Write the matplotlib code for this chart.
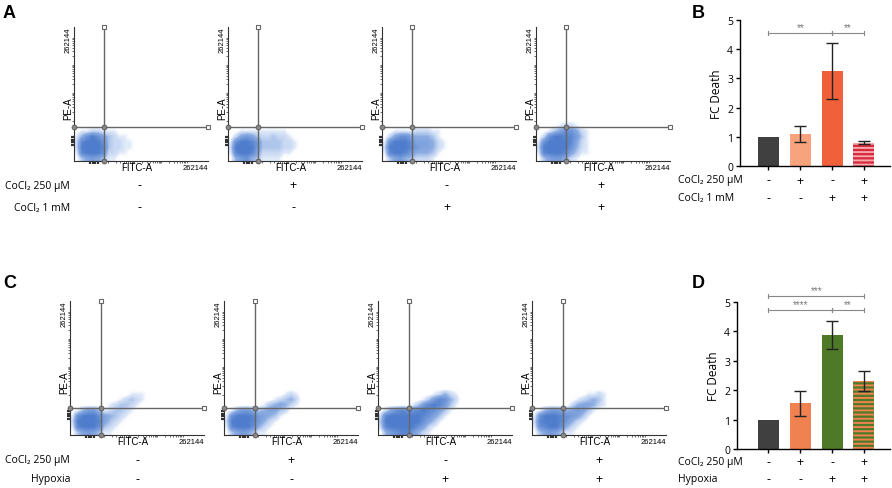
import numpy as np
import matplotlib
matplotlib.use("Agg")
import matplotlib.pyplot as plt
from matplotlib.colors import LinearSegmentedColormap

W, H = 892, 489

# Flow cytometry event density (0 = empty, 9 = solid).
# Rows go from top (PE-A 0.32-0.36) to bottom (0-0.04), columns 0-0.64 of FITC-A, 0.04 per cell.
a1_density = [
    "0000000000000000",
    "0000000000000000",
    "0000000000000000",
    "0112211100000000",
    "1479753211000000",
    "2899973221100000",
    "2999983221100000",
    "1899972211000000",
    "0356531100000000",
]
a2_density = [
    "0000000000000000",
    "0000000000000000",
    "0000000000000000",
    "0011111111100000",
    "0256532232210000",
    "1799863333221000",
    "2999963333221000",
    "1899852222110000",
    "0467431111000000",
]
a3_density = [
    "0000000000000000",
    "0000000000000000",
    "0000000000000000",
    "0011112221100000",
    "0257754443100000",
    "1799975554210000",
    "2999986554210000",
    "1899864443100000",
    "0356432221000000",
]
a4_density = [
    "0000000000000000",
    "0000000000000000",
    "0000122100000000",
    "0013577521000000",
    "0279988631000000",
    "1799998521000000",
    "2999997421000000",
    "1899985311000000",
    "0356642100000000",
]
c1_density = [
    "0000000000000000",
    "0000000000011100",
    "0000000001232100",
    "0000000123321000",
    "0146631233210000",
    "1799975432100000",
    "2999985321000000",
    "1899973210000000",
    "0356531100000000",
]
c2_density = [
    "0000000000000000",
    "0000000000012100",
    "0000000001234200",
    "0000000134542100",
    "0146643455320000",
    "1799986543100000",
    "2999986421000000",
    "1899974210000000",
    "0356531100000000",
]
c3_density = [
    "0000000000000000",
    "0000000000124210",
    "0000000013687420",
    "0000001368986310",
    "0257877898753100",
    "2899999987531000",
    "3999999975310000",
    "2899999752100000",
    "0467886421000000",
]
c4_density = [
    "0000000000000000",
    "0000000000112100",
    "0000000012343100",
    "0000000245542100",
    "0146654565310000",
    "1799987653100000",
    "2899986421000000",
    "1789974210000000",
    "0356531100000000",
]

# quadrant gates (fraction of axis)
a_gate = (0.224, 0.254)
c_gate = (0.23, 0.20)

# treatment rows
a_cocl250 = ["-", "+", "-", "+"]
a_cocl1 = ["-", "-", "+", "+"]
c_cocl250 = ["-", "+", "-", "+"]
c_hypoxia = ["-", "-", "+", "+"]

# FC Death bars
b_values = [1.0, 1.1, 3.25, 0.8]
b_low = [1.0, 0.83, 2.28, 0.76]
b_high = [1.0, 1.38, 4.22, 0.85]
d_values = [1.0, 1.55, 3.88, 2.32]
d_low = [1.0, 1.13, 3.40, 1.98]
d_high = [1.0, 1.97, 4.35, 2.65]
b_sig = [(0, 2, 4.55, "**"), (2, 3, 4.55, "**")]
d_sig = [(0, 3, 5.21, "***"), (0, 2, 4.73, "****"), (2, 3, 4.73, "**")]

b_colors = ["#404040", "#f7a47e", "#f0603a", "#d7263d"]
b_stripe = "#f5a8a8"
d_colors = ["#404040", "#f08252", "#4e7a27", "#4e7a27"]
d_stripe = "#f08252"

TXT = ["Open Sans", "DejaVu Sans"]
ARIAL = ["Liberation Sans", "DejaVu Sans"]
plt.rcParams["hatch.linewidth"] = 1.4

cloud_cmap = LinearSegmentedColormap.from_list(
    "cloud", [(0.0, (1, 1, 1, 0)), (0.12, (0.70, 0.79, 0.94, 0.45)),
              (0.45, (0.47, 0.62, 0.87, 0.85)), (1.0, (0.31, 0.49, 0.80, 1))])
gate_col = "#666666"


def fx(x):
    return x / W


def fy(y):
    return 1 - y / H


def flow_panel(left, bottom, grid, gate):
    ax = fig.add_axes([fx(left), fy(bottom), 134 / W, 134 / H])
    arr = np.array([[int(c) for c in row] for row in grid]) / 9.0
    ax.imshow(arr, extent=(0, 0.64, 0, 0.36), origin="upper", cmap=cloud_cmap,
              vmin=0, vmax=1, interpolation="bilinear", aspect="auto", zorder=1)
    ax.set_xlim(0, 1)
    ax.set_ylim(0, 1)
    for s in ("top", "right"):
        ax.spines[s].set_visible(False)
    for s in ("left", "bottom"):
        ax.spines[s].set_linewidth(0.8)
        ax.spines[s].set_color("#333333")

    steps = np.log10(np.arange(1, 10))
    ax.set_xticks(np.concatenate([d + 0.2 * steps for d in (0.25, 0.45, 0.65)]), minor=True)
    ax.set_yticks(np.concatenate([d + 0.21 * steps for d in (0.30, 0.51, 0.72)]), minor=True)
    thick = [0.12, 0.14, 0.16, 0.18]
    ax.set_xticks(thick, labels=[])
    ax.set_yticks(thick, labels=[])
    ax.tick_params(which="minor", length=1.5, width=0.5, color="#333333")
    ax.tick_params(which="major", length=2, width=1.6, color="#333333")

    gx, gy = gate
    ax.plot([gx, gx], [0, 1], color=gate_col, lw=1, zorder=3, clip_on=False)
    ax.plot([0, 1], [gy, gy], color=gate_col, lw=1, zorder=3, clip_on=False)
    ax.plot([gx, 1], [1, gy], ls="none", marker="s", ms=3, mfc="white",
            mec=gate_col, mew=0.8, zorder=4, clip_on=False)
    ax.plot([0, gx, gx], [gy, gy, 0], ls="none", marker="o", ms=3.5, mfc="#888888",
            mec="#555555", mew=0.6, zorder=4, clip_on=False)

    ax.text(0.47, -0.045, "FITC-A", transform=ax.transAxes, ha="center", va="center",
            fontsize=7, family=ARIAL)
    ax.text(1.0, -0.05, "262144", transform=ax.transAxes, ha="right", va="center",
            fontsize=5.5, family=ARIAL)
    ax.text(-0.045, 0.40, "PE-A", transform=ax.transAxes, ha="center", va="center",
            rotation=90, fontsize=7, family=ARIAL)
    ax.text(-0.045, 0.91, "262144", transform=ax.transAxes, ha="center", va="center",
            rotation=90, fontsize=5.5, family=ARIAL)
    return ax


def bar_panel(rect, xleft, values, low, high, colors, stripe, sig, rows, row_y):
    ax = fig.add_axes(rect)
    x = np.arange(len(values))
    ax.bar(x[:3], values[:3], width=0.66, color=colors[:3], linewidth=0, zorder=2)
    ax.bar(x[3], values[3], width=0.66, color=colors[3], edgecolor=stripe,
           hatch="----", linewidth=0, zorder=2)
    yerr = [np.array(values[1:]) - np.array(low[1:]), np.array(high[1:]) - np.array(values[1:])]
    ax.errorbar(x[1:], values[1:], yerr=yerr, fmt="none", ecolor="#222222",
                elinewidth=1, capsize=4, capthick=1, zorder=3)
    for x0, x1, y, lab in sig:
        ax.plot([x0, x1], [y, y], color="#888888", lw=0.8, clip_on=False)
        for xe in (x0, x1):
            ax.plot([xe, xe], [y - 0.07, y + 0.07], color="#888888", lw=0.8, clip_on=False)
        ax.text((x0 + x1) / 2, y + 0.02, lab, ha="center", va="bottom", fontsize=7,
                color="#777777", family=ARIAL, clip_on=False)
    ax.set_xlim(xleft, 3.82)
    ax.set_ylim(0, 5)
    ax.set_yticks(range(6))
    ax.set_yticklabels([str(v) for v in range(6)], family=TXT, fontsize=7.5)
    ax.set_xticks(x, labels=[])
    ax.tick_params(length=3, width=1, pad=2)
    for s in ("top", "right"):
        ax.spines[s].set_visible(False)
    for s in ("left", "bottom"):
        ax.spines[s].set_linewidth(1)
    ax.set_ylabel("FC Death", family=TXT, fontsize=8.5, labelpad=3)
    for signs, ry in zip(rows, row_y):
        for xi, sgn in zip(x, signs):
            ax.text(xi, ry, sgn, transform=ax.get_xaxis_transform(), ha="center",
                    va="center", fontsize=9, family=TXT)
    return ax


fig = plt.figure(figsize=(W / 100, H / 100), dpi=100)

a_grids = [a1_density, a2_density, a3_density, a4_density]
c_grids = [c1_density, c2_density, c3_density, c4_density]
for i, g in enumerate(a_grids):
    left = 74 + 154 * i
    flow_panel(left, 162, g, a_gate)
    fig.text(fx(left + 65), fy(186), a_cocl250[i], ha="center", va="center", fontsize=9, family=TXT)
    fig.text(fx(left + 65), fy(208), a_cocl1[i], ha="center", va="center", fontsize=9, family=TXT)
for i, g in enumerate(c_grids):
    left = 70 + 154 * i
    flow_panel(left, 436, g, c_gate)
    fig.text(fx(left + 67), fy(461), c_cocl250[i], ha="center", va="center", fontsize=9, family=TXT)
    fig.text(fx(left + 67), fy(480), c_hypoxia[i], ha="center", va="center", fontsize=9, family=TXT)

fig.text(fx(70), fy(186), "CoCl₂ 250 µM", ha="right", va="center", fontsize=7.5, family=TXT)
fig.text(fx(70), fy(208), "CoCl₂ 1 mM", ha="right", va="center", fontsize=7.5, family=TXT)
fig.text(fx(70), fy(461), "CoCl₂ 250 µM", ha="right", va="center", fontsize=7.5, family=TXT)
fig.text(fx(70), fy(480), "Hypoxia", ha="right", va="center", fontsize=7.5, family=TXT)

bar_panel([fx(740), fy(167), 150 / W, 146 / H], -0.896, b_values, b_low, b_high,
          b_colors, b_stripe, b_sig, [a_cocl250, a_cocl1], [-0.096, -0.219])
bar_panel([fx(737), fy(450), 153 / W, 147 / H], -0.99, d_values, d_low, d_high,
          d_colors, d_stripe, d_sig, [c_cocl250, c_hypoxia], [-0.088, -0.204])

fig.text(fx(678), fy(181), "CoCl₂ 250 µM", ha="left", va="center", fontsize=7.5, family=TXT)
fig.text(fx(678), fy(199), "CoCl₂ 1 mM", ha="left", va="center", fontsize=7.5, family=TXT)
fig.text(fx(678), fy(463), "CoCl₂ 250 µM", ha="left", va="center", fontsize=7.5, family=TXT)
fig.text(fx(678), fy(480), "Hypoxia", ha="left", va="center", fontsize=7.5, family=TXT)

for lab, x, y in (("A", 3, 18), ("B", 692, 18), ("C", 3, 288), ("D", 692, 288)):
    fig.text(fx(x), fy(y), lab, ha="left", va="baseline", fontsize=13,
             fontweight="bold", family=ARIAL)

fig.savefig("out.png", dpi=100)
